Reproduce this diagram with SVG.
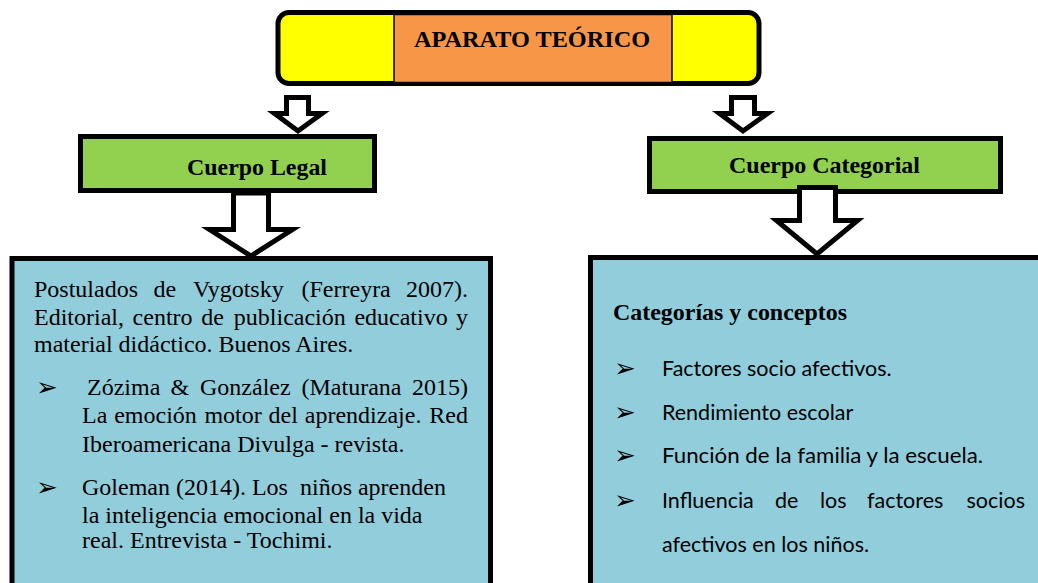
<svg xmlns="http://www.w3.org/2000/svg" width="1038" height="583" viewBox="0 0 1038 583">
<style>
.serif{font-family:"Liberation Serif","Times New Roman",serif;font-size:24px;fill:#000}
.bold{font-weight:bold}
.sans{font-family:Lato,"Noto Sans","Liberation Sans",sans-serif;font-size:21.5px;fill:#000}
.bul{font-family:"DejaVu Sans",sans-serif;font-size:26px;fill:#000}
.arrow{fill:#fff;stroke:#000;stroke-width:5;stroke-linejoin:miter}
.green{fill:#92D050;stroke:#000;stroke-width:5}
.blue{fill:#92CDDC;stroke:#000;stroke-width:5}
</style>
<rect width="1038" height="583" fill="#fff"/>

<g id="aparato">
<rect x="278" y="12.5" width="481" height="71" rx="11" fill="#FFFF00" stroke="#000" stroke-width="5"/>
<rect x="394" y="14.5" width="278" height="68" fill="#F79646" stroke="#000" stroke-width="1.5"/>
<text class="serif bold" x="414" y="47" textLength="236" lengthAdjust="spacingAndGlyphs">APARATO TEÓRICO</text>
</g>

<g id="cuerpo-legal">
<rect class="green" x="80.5" y="136.5" width="294" height="54"/>
<text class="serif bold" x="187" y="175" textLength="140" lengthAdjust="spacingAndGlyphs">Cuerpo Legal</text>
</g>

<g id="cuerpo-categorial">
<rect class="green" x="649.5" y="138.5" width="351" height="53"/>
<text class="serif bold" x="729" y="173" textLength="191" lengthAdjust="spacingAndGlyphs">Cuerpo Categorial</text>
</g>

<g id="connectors">
<polygon class="arrow" points="286.5,97.5 308.5,97.5 308.5,113.5 322,113.5 298,131 274.5,113.5 286.5,113.5"/>
<polygon class="arrow" points="731.5,97.5 754.5,97.5 754.5,113.5 767.5,113.5 743,131 719.5,113.5 731.5,113.5"/>
<polygon class="arrow" points="233.5,193 268.5,193 268.5,229.5 292.5,229.5 251,256 209.5,229.5 233.5,229.5"/>
<polygon class="arrow" points="799.5,187.5 835.5,187.5 835.5,220.5 857.5,220.5 817,254 776.5,220.5 799.5,220.5"/>
</g>

<g id="legal-content">
<rect class="blue" x="12" y="258.5" width="478.5" height="330"/>
<text class="serif" y="297"><tspan x="34">Postulados</tspan><tspan x="153.5">de</tspan><tspan x="193">Vygotsky</tspan><tspan x="301.5">(Ferreyra</tspan><tspan x="468" text-anchor="end">2007).</tspan></text>
<text class="serif" y="325"><tspan x="34">Editorial,</tspan><tspan x="132.6">centro</tspan><tspan x="201.2">de</tspan><tspan x="233.8">publicación</tspan><tspan x="354.4">educativo</tspan><tspan x="468" text-anchor="end">y</tspan></text>
<text class="serif" x="34" y="352">material didáctico. Buenos Aires.</text>
<text class="bul" x="36" y="396">➢</text>
<text class="serif" y="395"><tspan x="87">Zózima</tspan><tspan x="170.5">&amp;</tspan><tspan x="200">González</tspan><tspan x="301.5">(Maturana</tspan><tspan x="468" text-anchor="end">2015)</tspan></text>
<text class="serif" y="423"><tspan x="82">La</tspan><tspan x="114.2">emoción</tspan><tspan x="204.4">motor</tspan><tspan x="268.6">del</tspan><tspan x="304.8">aprendizaje.</tspan><tspan x="468" text-anchor="end">Red</tspan></text>
<text class="serif" x="82" y="452">Iberoamericana Divulga - revista.</text>
<text class="bul" x="36" y="496">➢</text>
<text class="serif" x="82" y="495" style="white-space:pre">Goleman (2014). Los  niños aprenden</text>
<text class="serif" x="82" y="523">la inteligencia emocional en la vida</text>
<text class="serif" x="82" y="548">real. Entrevista - Tochimi.</text>
</g>

<g id="categorial-content">
<rect class="blue" x="590.5" y="257.5" width="460" height="332"/>
<text class="serif bold" x="613" y="320" textLength="234" lengthAdjust="spacingAndGlyphs">Categorías y conceptos</text>
<text class="bul" x="614" y="377">➢</text>
<text class="sans" x="662" y="376">Factores socio afectivos.</text>
<text class="bul" x="614" y="421">➢</text>
<text class="sans" x="662" y="420">Rendimiento escolar</text>
<text class="bul" x="614" y="464">➢</text>
<text class="sans" x="662" y="463" textLength="321" lengthAdjust="spacingAndGlyphs">Función de la familia y la escuela.</text>
<text class="bul" x="614" y="509">➢</text>
<text class="sans" y="508"><tspan x="662">Influencia</tspan><tspan x="775">de</tspan><tspan x="820">los</tspan><tspan x="867">factores</tspan><tspan x="1025" text-anchor="end">socios</tspan></text>
<text class="sans" x="662" y="552">afectivos en los niños.</text>
</g>
</svg>
